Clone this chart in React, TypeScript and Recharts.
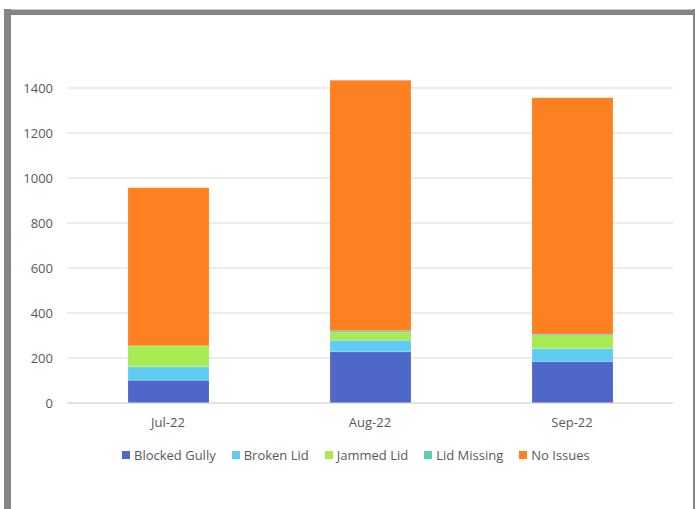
import React from "react";
import { BarChart, Bar, XAxis, YAxis, CartesianGrid, Legend } from "recharts";

const months = ["Jul-22", "Aug-22", "Sep-22"];
const blockedGully = [101, 228, 184];
const brokenLid = [60, 51, 58];
const jammedLid = [93, 34, 57];
const lidMissing = [0, 8, 7];
const noIssues = [703, 1113, 1051];
const yTicks = [0, 200, 400, 600, 800, 1000, 1200, 1400];
const yMax = 1600;

const seriesNames = ["Blocked Gully", "Broken Lid", "Jammed Lid", "Lid Missing", "No Issues"];
const seriesKeys = ["bg", "bl", "jl", "lm", "ni"];
const seriesColors = ["#4E67C8", "#5ECCF3", "#A7EA52", "#5DCEAF", "#FF8021"];

const data = months.map((m, i) => ({
  month: m,
  bg: blockedGully[i],
  bl: brokenLid[i],
  jl: jammedLid[i],
  lm: lidMissing[i],
  ni: noIssues[i],
}));

const FONT = "'Open Sans', sans-serif";

const renderLegend = (props: any) => {
  const payload = props.payload || [];
  return (
    <div style={{ display: "flex", justifyContent: "flex-start", paddingLeft: 122, fontFamily: FONT, fontSize: 13, color: "#595959", lineHeight: "20px" }}>
      {payload.map((p: any, i: number) => (
        <div key={i} style={{ display: "flex", alignItems: "center", marginLeft: i === 0 ? 0 : 16 }}>
          <span style={{ display: "inline-block", width: 8, height: 8, background: p.color, marginRight: 4 }} />
          <span>{p.value}</span>
        </div>
      ))}
    </div>
  );
};

const gridGen = (props: any) => {
  const off = props && props.offset ? props.offset : { top: 43, height: 360 };
  return yTicks.map((t) => off.top + off.height * (1 - t / yMax));
};

export default function App() {
  return (
    <div style={{ position: "absolute", left: 0, top: 0, width: 695, height: 509, background: "#fff" }}>
      <div style={{ position: "absolute", left: 4, top: 9, width: 691, height: 1, background: "#c8c8c8" }} />
      <div style={{ position: "absolute", left: 4, top: 10, width: 691, height: 5, background: "#858585" }} />
      <div style={{ position: "absolute", left: 4, top: 9, width: 7, height: 500, background: "#858585" }} />
      <div style={{ position: "absolute", left: 693, top: 9, width: 2, height: 500, background: "#858585" }} />
      <div style={{ position: "absolute", left: 0, top: 0 }}>
        <BarChart
          width={695}
          height={509}
          data={data}
          margin={{ top: 43, right: 22, left: 0, bottom: 44 }}
          barSize={81}
        >
          <CartesianGrid
            vertical={false}
            stroke="#d9d9d9"
            strokeWidth={1}
            horizontalCoordinatesGenerator={gridGen}
          />
          <XAxis
            dataKey="month"
            height={42}
            axisLine={{ stroke: "#d9d9d9" }}
            tickLine={false}
            tickMargin={9}
            tick={{ fill: "#595959", fontSize: 13, fontFamily: FONT }}
          />
          <YAxis
            width={67}
            domain={[0, yMax]}
            ticks={yTicks}
            axisLine={false}
            tickLine={false}
            tickMargin={8}
            tick={{ fill: "#595959", fontSize: 13, fontFamily: FONT }}
          />
          <Legend verticalAlign="bottom" height={20} content={renderLegend} wrapperStyle={{ left: 0, width: 695 }} />
          {seriesKeys.map((k, i) => (
            <Bar
              key={k}
              dataKey={k}
              name={seriesNames[i]}
              stackId="a"
              fill={seriesColors[i]}
              stroke="#ffffff"
              strokeOpacity={0.3}
              strokeWidth={0.5}
              isAnimationActive={false}
            />
          ))}
        </BarChart>
      </div>
    </div>
  );
}
